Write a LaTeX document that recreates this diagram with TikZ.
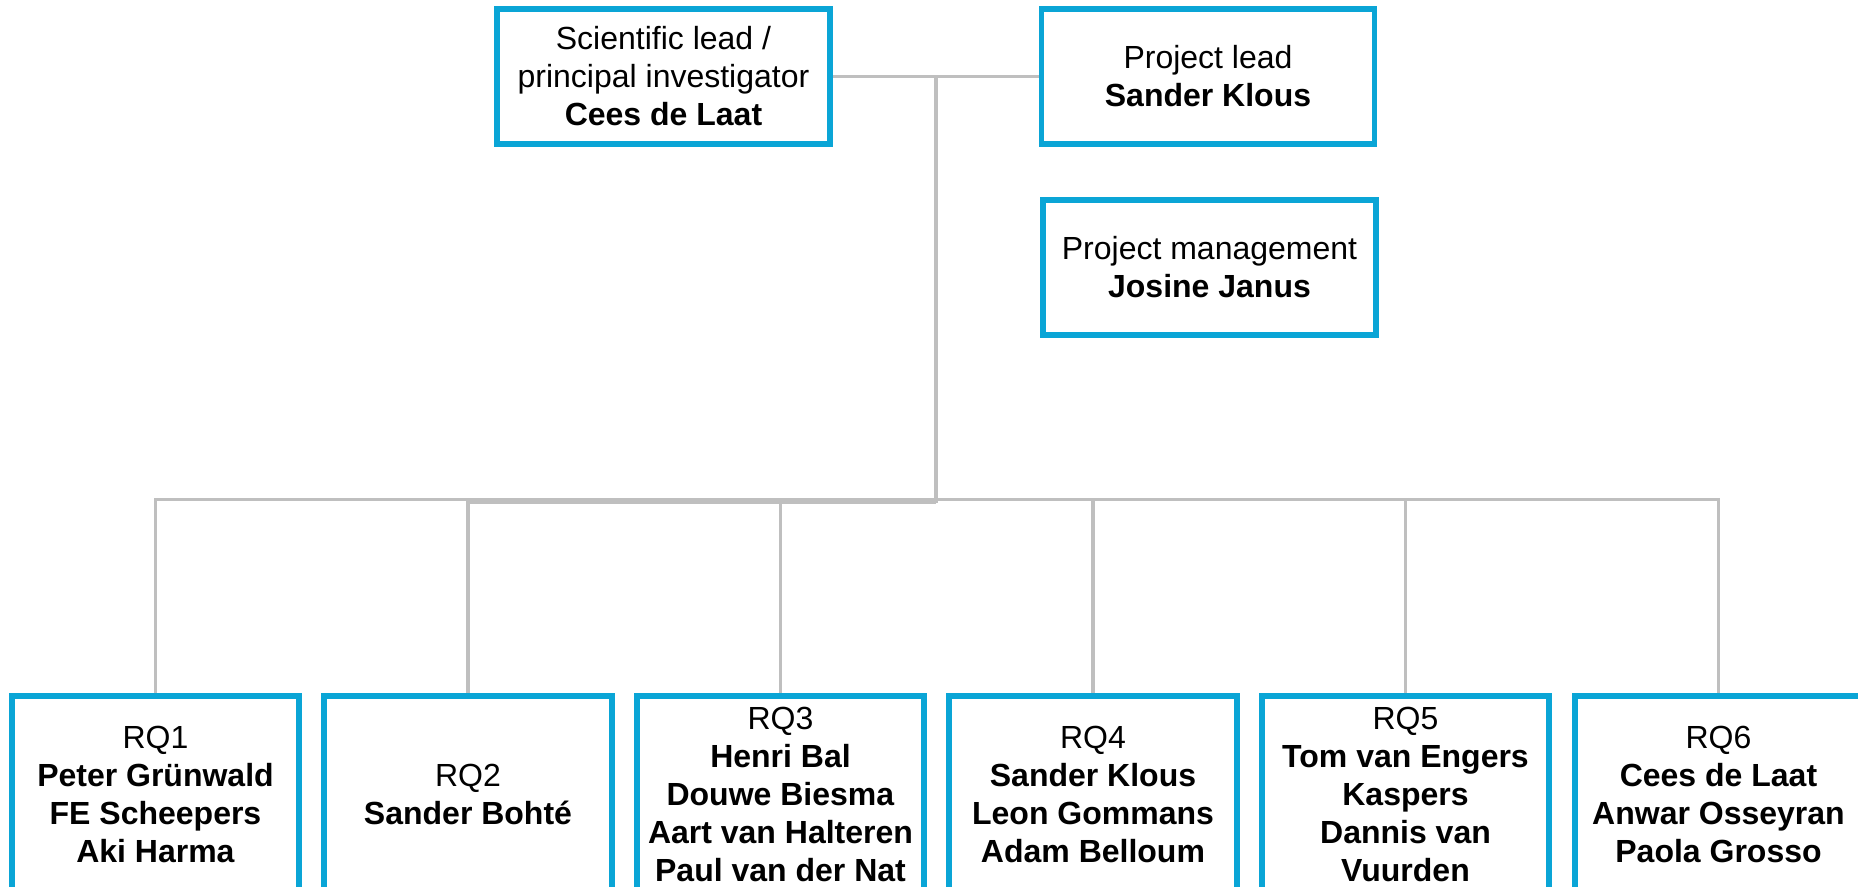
\documentclass[tikz,border=0pt]{standalone}
\usepackage{fontspec}
\setmainfont{Liberation Sans}
\usepackage{xcolor}
\usetikzlibrary{positioning}
\definecolor{boxblue}{RGB}{10,165,214}
\definecolor{linegrey}{RGB}{191,191,191}

\begin{document}
\begin{tikzpicture}[x=0.5pt,y=-0.5pt,
 unit/.style={draw=boxblue,line width=2.85pt,fill=white,align=center,inner sep=2pt,
  minimum width=166.5pt,minimum height=67.6pt,font=\fontsize{16}{19}\selectfont},
 rqbox/.style={unit,anchor=north,minimum width=143.7pt,minimum height=98.7pt},
 link/.style={draw=linegrey,line width=1.65pt}]
 \useasboundingbox (0,0) rectangle (1858,887);
 \clip (0,0) rectangle (1858,887);
 % top level
 \node[unit] (sci) at (663.5,76.5) {Scientific lead /\\principal investigator\\\textbf{Cees de Laat}};
 \node[unit] (plead) at (1208,76.5) {Project lead\\\textbf{Sander Klous}};
 \node[unit] (pman) at (1209.5,267.5) {Project management\\\textbf{Josine Janus}};
 % research questions
 \node[rqbox] (rq1) at (155.5,692.8) {RQ1\\\textbf{Peter Grünwald}\\\textbf{FE Scheepers}\\\textbf{Aki Harma}};
 \node[rqbox] (rq2) at (468,692.8) {RQ2\\\textbf{Sander Bohté}};
 \node[rqbox] (rq3) at (780.5,692.8) {RQ3\\\textbf{Henri Bal}\\\textbf{Douwe Biesma}\\\textbf{Aart van Halteren}\\\textbf{Paul van der Nat}};
 \node[rqbox] (rq4) at (1093,692.8) {RQ4\\\textbf{Sander Klous}\\\textbf{Leon Gommans}\\\textbf{Adam Belloum}};
 \node[rqbox] (rq5) at (1405.5,692.8) {RQ5\\\textbf{Tom van Engers}\\\textbf{Kaspers}\\\textbf{Dannis van}\\\textbf{Vuurden}};
 \node[rqbox] (rq6) at (1718.5,692.8) {RQ6\\\textbf{Cees de Laat}\\\textbf{Anwar Osseyran}\\\textbf{Paola Grosso}};
 % connectors
 \coordinate (split) at (936,76.5);
 \coordinate (hub) at (936,499.5);
 \coordinate (lowhub) at (936,502.5);
 \draw[link] (sci.east) -- (plead.west);
 \draw[link] (split) -- (lowhub);
 \draw[link] (hub) -| (rq1.north);
 \draw[link] (lowhub) -| (rq2.north);
 \draw[link] (lowhub) -| (rq3.north);
 \draw[link] (hub) -| (rq4.north);
 \draw[link] (hub) -| (rq5.north);
 \draw[link] (hub) -| (rq6.north);
\end{tikzpicture}
\end{document}
